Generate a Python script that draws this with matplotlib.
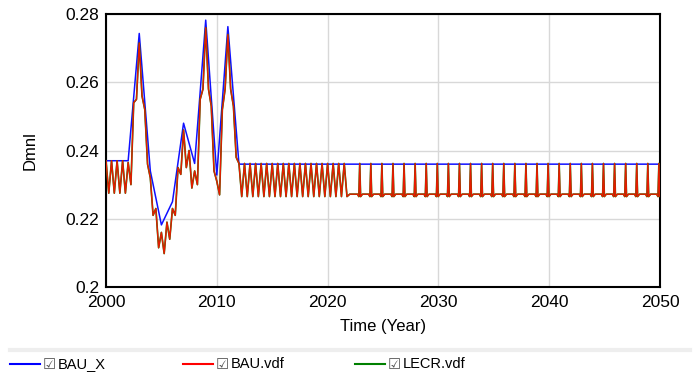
import numpy as np
import matplotlib
matplotlib.use('Agg')
import matplotlib.pyplot as plt
from matplotlib.lines import Line2D

plt.rcParams['font.family'] = ['Liberation Sans', 'DejaVu Sans']

# BAU_X (yearly points)
bau_x_years = [2000, 2002, 2003, 2004, 2005, 2006, 2007, 2008, 2009, 2010, 2011, 2012, 2050]
bau_x_vals = [0.237, 0.237, 0.2743, 0.234, 0.2182, 0.225, 0.248, 0.2362, 0.2782, 0.2328, 0.2763, 0.236, 0.236]

# BAU.vdf / LECR.vdf, quarterly zigzag 2000-2022
early_t = np.arange(2000, 2022.01, 0.25)
early_v = [
    0.2370, 0.2275, 0.2370, 0.2275,   # 2000
    0.2370, 0.2275, 0.2370, 0.2275,   # 2001
    0.2365, 0.2300, 0.2540, 0.2550,   # 2002
    0.2715, 0.2560, 0.2520, 0.2360,   # 2003
    0.2320, 0.2210, 0.2230, 0.2115,   # 2004
    0.2160, 0.2098, 0.2190, 0.2140,   # 2005
    0.2230, 0.2210, 0.2350, 0.2330,   # 2006
    0.2460, 0.2350, 0.2400, 0.2290,   # 2007
    0.2340, 0.2300, 0.2550, 0.2580,   # 2008
    0.2760, 0.2580, 0.2530, 0.2340,   # 2009
    0.2310, 0.2270, 0.2520, 0.2580,   # 2010
    0.2740, 0.2580, 0.2530, 0.2380,   # 2011
    0.2362, 0.2265, 0.2362, 0.2265,   # 2012
    0.2362, 0.2265, 0.2362, 0.2265,   # 2013
    0.2362, 0.2265, 0.2362, 0.2265,   # 2014
    0.2362, 0.2265, 0.2362, 0.2265,   # 2015
    0.2362, 0.2265, 0.2362, 0.2265,   # 2016
    0.2362, 0.2265, 0.2362, 0.2265,   # 2017
    0.2362, 0.2265, 0.2362, 0.2265,   # 2018
    0.2362, 0.2265, 0.2362, 0.2265,   # 2019
    0.2362, 0.2265, 0.2362, 0.2265,   # 2020
    0.2362, 0.2265, 0.2362, 0.2265,   # 2021
    0.2272,                           # 2022
]

# one spike per year afterwards
spike_years = [2022.9, 2023.9, 2024.9, 2025.9, 2026.9, 2027.9, 2028.9, 2029.9,
               2030.9, 2031.9, 2032.9, 2033.9, 2034.9, 2035.9, 2036.9, 2037.9,
               2038.9, 2039.9, 2040.9, 2041.9, 2042.9, 2043.9, 2044.9, 2045.9,
               2046.9, 2047.9, 2048.9, 2049.9]
spike_peak = [0.2362] * len(spike_years)
spike_dip = 0.2265
spike_base = 0.2272

t_list = list(early_t)
v_list = list(early_v)
for y, p in zip(spike_years, spike_peak):
    t_list += [y - 0.2, y - 0.08, y, y + 0.08, y + 0.25]
    v_list += [spike_base, spike_dip, p, spike_dip, spike_base]
red_t = np.array(t_list)
red_v = np.array(v_list)

fig = plt.figure(figsize=(6.94, 3.74), dpi=100)
ax = fig.add_axes([106/694, 1 - 287/374, (660-106)/694, (287-14)/374])

ax.plot(bau_x_years, bau_x_vals, color='#1010ff', lw=1.1, zorder=3)
ax.plot(red_t, red_v, color='#008000', lw=1.2, zorder=4)
ax.plot(red_t, red_v, color='#ff1000', lw=1.0, alpha=0.9, zorder=5)

ax.set_xlim(2000, 2050)
ax.set_ylim(0.2, 0.28)
ax.set_xticks([2000, 2010, 2020, 2030, 2040, 2050])
ax.set_yticks([0.2, 0.22, 0.24, 0.26, 0.28])
ax.set_yticklabels(['0.2', '0.22', '0.24', '0.26', '0.28'])
ax.grid(True, color='#d8d8d8', lw=1)
ax.tick_params(length=0, labelsize=12.5)
ax.tick_params(axis='x', pad=6)
ax.tick_params(axis='y', pad=5)
for s in ax.spines.values():
    s.set_linewidth(1.5)
    s.set_color('black')
ax.set_xlabel('Time (Year)', fontsize=12, labelpad=6)
ax.set_ylabel('Dmnl', fontsize=12, labelpad=20)

# legend strip
fig.add_artist(Line2D([10/694, 690/694], [1 - 350/374] * 2, color='#eeeeee', lw=3))
entries = [('BAU_X', '#0000ff', 10), ('BAU.vdf', '#ff0000', 183), ('LECR.vdf', '#008000', 355)]
for name, col, x0 in entries:
    yy = 1 - 364/374
    fig.add_artist(Line2D([x0/694, (x0+30)/694], [yy, yy], color=col, lw=1.5))
    fig.text((x0+33)/694, yy, '\u2611', fontsize=10.5, color='#555555', va='center', ha='left',
             family=['DejaVu Sans'])
    fig.text((x0+48)/694, yy, name, fontsize=10.5, va='center', ha='left')

fig.savefig('out.png', dpi=100)
